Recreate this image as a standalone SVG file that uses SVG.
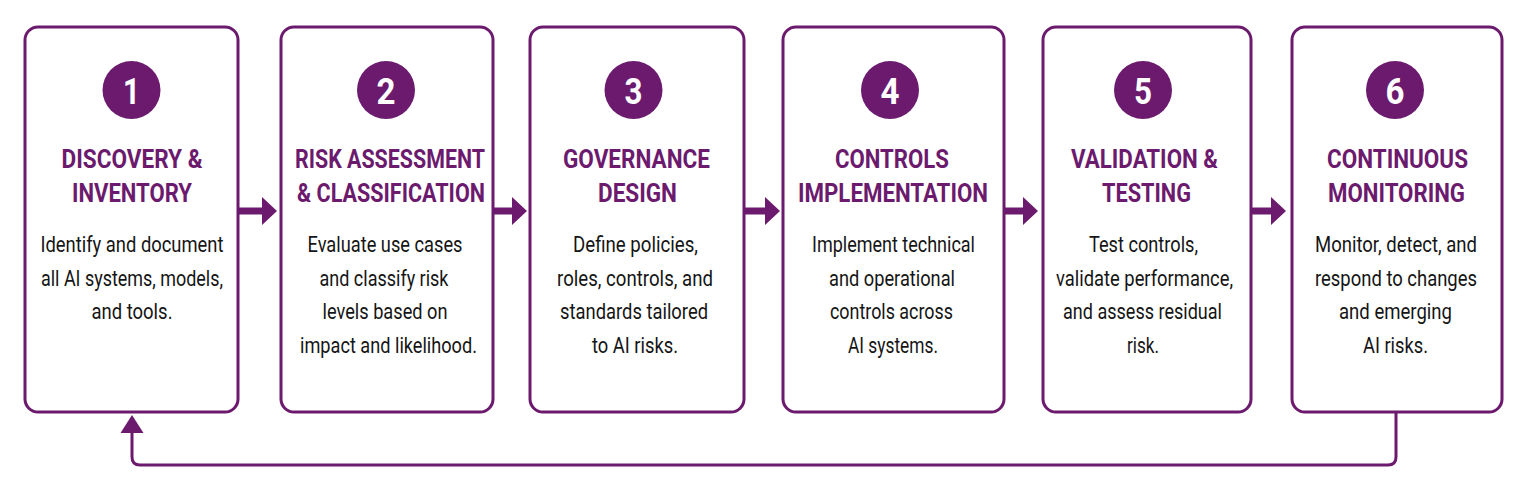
<svg xmlns="http://www.w3.org/2000/svg" width="1526" height="492" viewBox="0 0 1526 492">
<defs>
<style>
.box{fill:#ffffff;stroke:#6b1a6e;stroke-width:3}
.num-c{fill:#6b1a6e}
.num{font-family:Roboto,"Liberation Sans",sans-serif;font-weight:700;font-size:37px;fill:#ffffff;text-anchor:middle}
.title{font-family:Roboto,"Liberation Sans",sans-serif;font-weight:700;font-size:25px;fill:#6b1a6e;text-anchor:middle}
.body{font-family:Roboto,"Liberation Sans",sans-serif;font-weight:400;font-size:22px;fill:#151515;text-anchor:middle}
.conn{fill:#6b1a6e}
.loop{fill:none;stroke:#6b1a6e;stroke-width:3;stroke-linejoin:round}
</style>
</defs>
<rect width="1526" height="492" fill="#ffffff"/>

<g id="connectors">
<path class="conn" d="M238 207.5 H262 V197 L277 211 L262 225 V214.5 H238 Z"/>
<path class="conn" d="M493 207.5 H512 V197 L527 211 L512 225 V214.5 H493 Z"/>
<path class="conn" d="M744 207.5 H765 V197 L780 211 L765 225 V214.5 H744 Z"/>
<path class="conn" d="M1004 207.5 H1023 V197 L1038 211 L1023 225 V214.5 H1004 Z"/>
<path class="conn" d="M1251 207.5 H1271 V197 L1286 211 L1271 225 V214.5 H1251 Z"/>
<path class="loop" d="M1396 412 V457 Q1396 465 1388 465 H140 Q132 465 132 457 V432"/>
<path class="conn" d="M132 415 L143.5 433 L120.5 433 Z"/>
</g>

<g id="node1">
<rect class="box" x="25" y="27" width="213" height="385" rx="13"/>
<circle class="num-c" cx="131.5" cy="90" r="29"/>
<text class="num" x="131.5" y="104" textLength="17" lengthAdjust="spacingAndGlyphs">1</text>
<text class="title" x="132" y="168" textLength="141" lengthAdjust="spacingAndGlyphs">DISCOVERY &amp;</text>
<text class="title" x="132" y="202" textLength="120" lengthAdjust="spacingAndGlyphs">INVENTORY</text>
<text class="body" x="132" y="252" textLength="183" lengthAdjust="spacingAndGlyphs">Identify and document</text>
<text class="body" x="132" y="285.5" textLength="182" lengthAdjust="spacingAndGlyphs">all AI systems, models,</text>
<text class="body" x="132" y="319" textLength="81" lengthAdjust="spacingAndGlyphs">and tools.</text>
</g>

<g id="node2">
<rect class="box" x="281" y="27" width="212" height="385" rx="13"/>
<circle class="num-c" cx="386" cy="90" r="29"/>
<text class="num" x="386" y="104" textLength="19" lengthAdjust="spacingAndGlyphs">2</text>
<text class="title" x="390" y="168" textLength="190" lengthAdjust="spacingAndGlyphs">RISK ASSESSMENT</text>
<text class="title" x="391" y="202" textLength="188" lengthAdjust="spacingAndGlyphs">&amp; CLASSIFICATION</text>
<text class="body" x="385" y="252" textLength="155" lengthAdjust="spacingAndGlyphs">Evaluate use cases</text>
<text class="body" x="384" y="285.5" textLength="129" lengthAdjust="spacingAndGlyphs">and classify risk</text>
<text class="body" x="385" y="319" textLength="125" lengthAdjust="spacingAndGlyphs">levels based on</text>
<text class="body" x="388.5" y="352.5" textLength="177" lengthAdjust="spacingAndGlyphs">impact and likelihood.</text>
</g>

<g id="node3">
<rect class="box" x="530" y="27" width="214" height="385" rx="13"/>
<circle class="num-c" cx="633.5" cy="90" r="29"/>
<text class="num" x="633.5" y="104" textLength="18" lengthAdjust="spacingAndGlyphs">3</text>
<text class="title" x="636.5" y="168" textLength="147" lengthAdjust="spacingAndGlyphs">GOVERNANCE</text>
<text class="title" x="637.5" y="202" textLength="79" lengthAdjust="spacingAndGlyphs">DESIGN</text>
<text class="body" x="635.5" y="252" textLength="125" lengthAdjust="spacingAndGlyphs">Define policies,</text>
<text class="body" x="635" y="285.5" textLength="156" lengthAdjust="spacingAndGlyphs">roles, controls, and</text>
<text class="body" x="634" y="319" textLength="148" lengthAdjust="spacingAndGlyphs">standards tailored</text>
<text class="body" x="635" y="352.5" textLength="86" lengthAdjust="spacingAndGlyphs">to AI risks.</text>
</g>

<g id="node4">
<rect class="box" x="783" y="27" width="221" height="385" rx="13"/>
<circle class="num-c" cx="890" cy="90" r="29"/>
<text class="num" x="890" y="104" textLength="19" lengthAdjust="spacingAndGlyphs">4</text>
<text class="title" x="892" y="168" textLength="114" lengthAdjust="spacingAndGlyphs">CONTROLS</text>
<text class="title" x="893" y="202" textLength="190" lengthAdjust="spacingAndGlyphs">IMPLEMENTATION</text>
<text class="body" x="893.5" y="252" textLength="163" lengthAdjust="spacingAndGlyphs">Implement technical</text>
<text class="body" x="892" y="285.5" textLength="126" lengthAdjust="spacingAndGlyphs">and operational</text>
<text class="body" x="891.5" y="319" textLength="123" lengthAdjust="spacingAndGlyphs">controls across</text>
<text class="body" x="893" y="352.5" textLength="90" lengthAdjust="spacingAndGlyphs">AI systems.</text>
</g>

<g id="node5">
<rect class="box" x="1043" y="27" width="208" height="385" rx="13"/>
<circle class="num-c" cx="1143" cy="90" r="29"/>
<text class="num" x="1143" y="104" textLength="18" lengthAdjust="spacingAndGlyphs">5</text>
<text class="title" x="1144.5" y="168" textLength="147" lengthAdjust="spacingAndGlyphs">VALIDATION &amp;</text>
<text class="title" x="1146.5" y="202" textLength="89" lengthAdjust="spacingAndGlyphs">TESTING</text>
<text class="body" x="1143.5" y="252" textLength="109" lengthAdjust="spacingAndGlyphs">Test controls,</text>
<text class="body" x="1144.5" y="285.5" textLength="177" lengthAdjust="spacingAndGlyphs">validate performance,</text>
<text class="body" x="1142.5" y="319" textLength="159" lengthAdjust="spacingAndGlyphs">and assess residual</text>
<text class="body" x="1143" y="352.5" textLength="32" lengthAdjust="spacingAndGlyphs">risk.</text>
</g>

<g id="node6">
<rect class="box" x="1292" y="27" width="210" height="385" rx="13"/>
<circle class="num-c" cx="1395" cy="90" r="29"/>
<text class="num" x="1395" y="104" textLength="19" lengthAdjust="spacingAndGlyphs">6</text>
<text class="title" x="1397.5" y="168" textLength="141" lengthAdjust="spacingAndGlyphs">CONTINUOUS</text>
<text class="title" x="1396.5" y="202" textLength="137" lengthAdjust="spacingAndGlyphs">MONITORING</text>
<text class="body" x="1396" y="252" textLength="162" lengthAdjust="spacingAndGlyphs">Monitor, detect, and</text>
<text class="body" x="1396" y="285.5" textLength="162" lengthAdjust="spacingAndGlyphs">respond to changes</text>
<text class="body" x="1395.5" y="319" textLength="113" lengthAdjust="spacingAndGlyphs">and emerging</text>
<text class="body" x="1395.5" y="352.5" textLength="65" lengthAdjust="spacingAndGlyphs">AI risks.</text>
</g>
</svg>
